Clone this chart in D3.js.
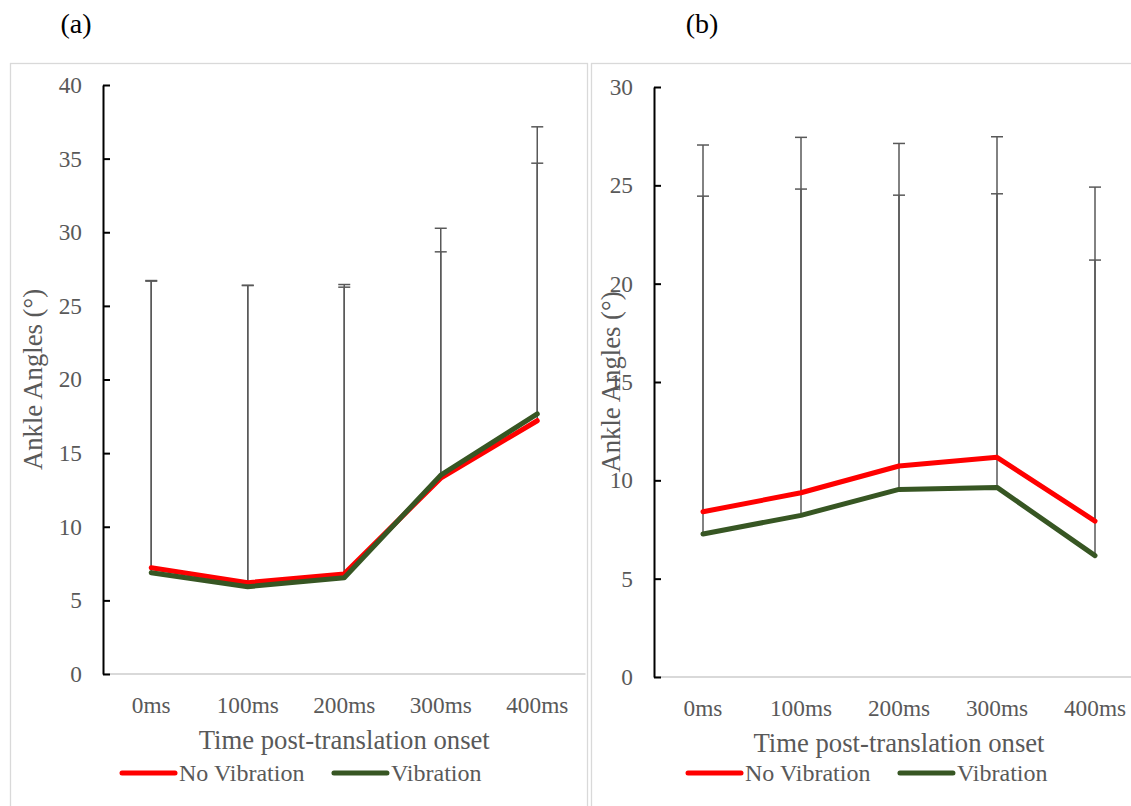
<!DOCTYPE html>
<html>
<head>
<meta charset="utf-8">
<script src="https://cdn.jsdelivr.net/npm/d3@7"></script>
<style>
  html, body { margin: 0; padding: 0; background: #ffffff; }
  svg { display: block; }
</style>
</head>
<body>
<svg id="chart" width="1131" height="806"></svg>
<script>
// ---------- data ----------
const categories = ["0ms", "100ms", "200ms", "300ms", "400ms"];
const seriesNames = ["No Vibration", "Vibration"];

// Panel (a)
const aNoVibration = [7.22, 6.2, 6.8, 13.3, 17.2];
const aVibration   = [6.88, 5.93, 6.54, 13.5, 17.66];
const aNoVibrationSD = [19.5, 20.2, 19.65, 16.97, 19.96];
const aVibrationSD   = [19.8, 20.45, 19.73, 15.17, 17.03];
const aTicks = [0, 5, 10, 15, 20, 25, 30, 35, 40];

// Panel (b)
const bNoVibration = [8.40, 9.37, 10.73, 11.17, 7.93];
const bVibration   = [7.27, 8.22, 9.54, 9.64, 6.17];
const bNoVibrationSD = [18.65, 18.07, 16.4, 16.3, 16.98];
const bVibrationSD   = [17.18, 16.59, 14.96, 14.93, 15.03];
const bTicks = [0, 5, 10, 15, 20, 25, 30];

const panelLabels = ["(a)", "(b)"];
const xTitle = "Time post-translation onset";
const yTitle = "Ankle Angles (°)";

// ---------- styles ----------
const colors = ["#FF0000", "#375623"];
const FONT = "'Liberation Serif', 'Times New Roman', serif";
const textGray = "#595959";

const svg = d3.select("#chart");

const panels = [
  {
    label: panelLabels[0], labelX: 76,
    box: {x: 10, y: 63, w: 577, h: 760},
    axisX: 103, top: 85, bottom: 674, band: 96.5,
    ymax: 40, ticks: aTicks,
    series: [aNoVibration, aVibration], sd: [aNoVibrationSD, aVibrationSD],
    yTitleX: 33, legendX: 122, titleY: 740
  },
  {
    label: panelLabels[1], labelX: 702,
    box: {x: 591, y: 63, w: 560, h: 760},
    axisX: 654, top: 87, bottom: 677, band: 98,
    ymax: 30, ticks: bTicks,
    series: [bNoVibration, bVibration], sd: [bNoVibrationSD, bVibrationSD],
    yTitleX: 611, legendX: 688, titleY: 743
  }
];

panels.forEach(p => {
  const g = svg.append("g");

  // panel border
  g.append("rect")
    .attr("x", p.box.x + 0.5).attr("y", p.box.y + 0.5)
    .attr("width", p.box.w).attr("height", p.box.h)
    .attr("fill", "none").attr("stroke", "#d9d9d9").attr("stroke-width", 1.3);

  // panel label
  svg.append("text")
    .attr("x", p.labelX).attr("y", 33)
    .attr("text-anchor", "middle")
    .attr("font-family", FONT).attr("font-size", 28)
    .attr("fill", "#000").text(p.label);

  const x = d3.scaleBand().domain(categories)
    .range([p.axisX, p.axisX + p.band * categories.length]).padding(0);
  const y = d3.scaleLinear().domain([0, p.ymax]).range([p.bottom, p.top]);
  const cx = c => x(c) + x.bandwidth() / 2;

  // x axis line (light gray)
  g.append("line")
    .attr("x1", p.axisX).attr("x2", p.axisX + p.band * categories.length)
    .attr("y1", p.bottom).attr("y2", p.bottom)
    .attr("stroke", "#d9d9d9").attr("stroke-width", 1.8);

  // x axis labels
  const xAxis = g.append("g")
    .attr("transform", `translate(0,${p.bottom})`)
    .call(d3.axisBottom(x).tickSize(0).tickPadding(22));
  xAxis.select(".domain").remove();
  xAxis.selectAll("text")
    .attr("font-family", FONT).attr("font-size", 23.3).attr("fill", textGray);

  // y axis
  const yAxis = g.append("g")
    .attr("transform", `translate(${p.axisX},0)`)
    .call(d3.axisLeft(y).tickValues(p.ticks).tickSizeInner(-7).tickSizeOuter(0).tickPadding(21));
  yAxis.select(".domain").attr("stroke", "#000").attr("stroke-width", 2);
  yAxis.selectAll(".tick line").attr("stroke", "#000").attr("stroke-width", 2);
  yAxis.selectAll("text")
    .attr("font-family", FONT).attr("font-size", 23.3).attr("fill", textGray);

  // error bars (plus direction only)
  p.series.forEach((vals, si) => {
    const eg = g.append("g");
    categories.forEach((c, i) => {
      const y0 = y(vals[i]);
      const y1 = y(vals[i] + p.sd[si][i]);
      eg.append("line")
        .attr("x1", cx(c)).attr("x2", cx(c))
        .attr("y1", y0).attr("y2", y1)
        .attr("stroke", textGray).attr("stroke-width", 1.5);
      eg.append("line")
        .attr("x1", cx(c) - 6).attr("x2", cx(c) + 6)
        .attr("y1", y1).attr("y2", y1)
        .attr("stroke", textGray).attr("stroke-width", 1.5);
    });
  });

  // lines
  const line = d3.line().x((d, i) => cx(categories[i])).y(d => y(d));
  p.series.forEach((vals, si) => {
    g.append("path")
      .datum(vals)
      .attr("d", line)
      .attr("fill", "none")
      .attr("stroke", colors[si])
      .attr("stroke-width", 5)
      .attr("stroke-linejoin", "round")
      .attr("stroke-linecap", "round");
  });

  // x title
  g.append("text")
    .attr("x", p.axisX + p.band * categories.length / 2)
    .attr("y", p.titleY)
    .attr("dy", "0.35em")
    .attr("text-anchor", "middle")
    .attr("font-family", FONT).attr("font-size", 26.7).attr("fill", textGray)
    .text(xTitle);

  // y title
  g.append("text")
    .attr("transform", `translate(${p.yTitleX},${(p.top + p.bottom) / 2}) rotate(-90)`)
    .attr("dy", "0.35em")
    .attr("text-anchor", "middle")
    .attr("font-family", FONT).attr("font-size", 26.7).attr("fill", textGray)
    .text(yTitle);

  // legend
  const lg = g.append("g");
  let lx = p.legendX;
  const ly = 773;
  seriesNames.forEach((name, si) => {
    lg.append("line")
      .attr("x1", lx).attr("x2", lx + 53)
      .attr("y1", ly).attr("y2", ly)
      .attr("stroke", colors[si]).attr("stroke-width", 5)
      .attr("stroke-linecap", "round");
    const t = lg.append("text")
      .attr("x", lx + 57).attr("y", ly + 7.8)
      .attr("font-family", FONT).attr("font-size", 24).attr("fill", textGray)
      .text(name);
    const w = t.node().getComputedTextLength();
    lx = lx + 57 + w + 29.5;
  });
});
</script>
</body>
</html>
